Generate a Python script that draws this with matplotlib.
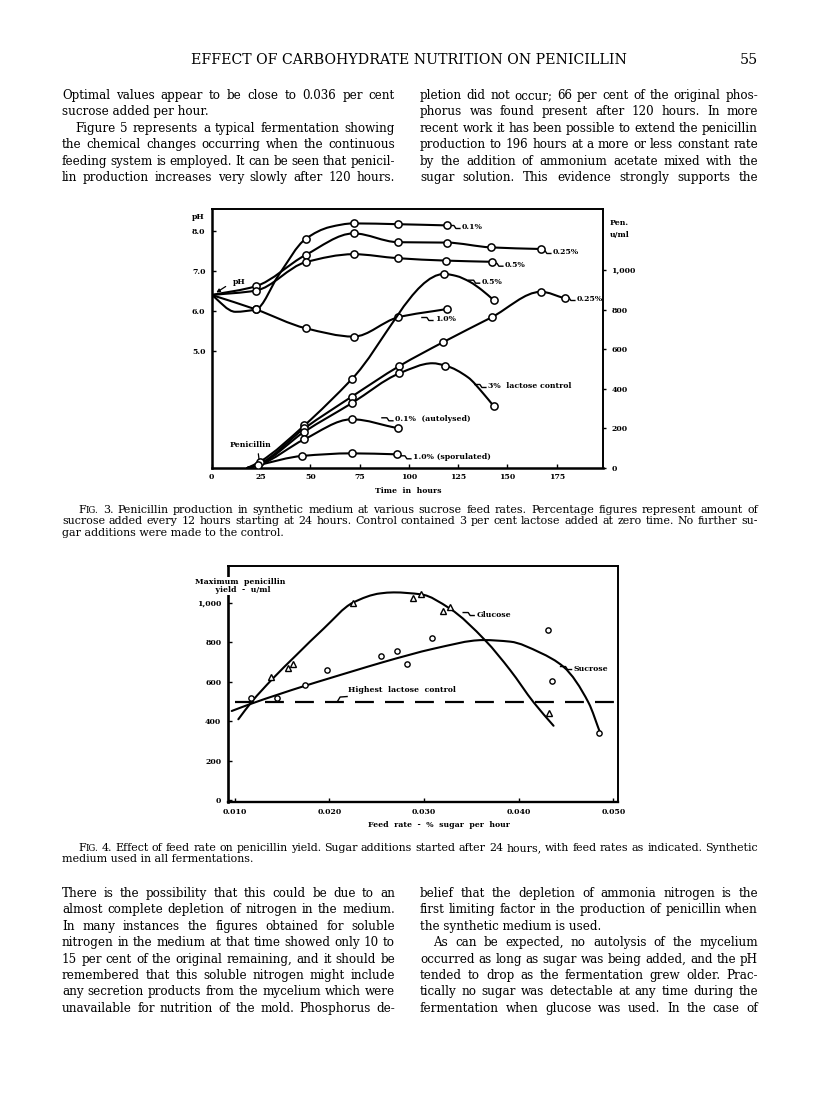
import numpy as np
import matplotlib
matplotlib.use("Agg")
import matplotlib.pyplot as plt
from matplotlib.path import Path
from matplotlib.patches import PathPatch
from matplotlib.lines import Line2D
import matplotlib.transforms as mtransforms

# ======================= DATA =======================
# ---- Fig. 3 : time course (hours) ----
hour_ticks = [0, 25, 50, 75, 100, 125, 150, 175]
ph_ticks = [5.0, 6.0, 7.0, 8.0]
ph_tick_labels = ["5.0", "6.0", "7.0", "8.0"]
pen_ticks = [0, 200, 400, 600, 800, 1000]
pen_tick_labels = ["0", "200", "400", "600", "800", "1,000"]

# pH curves: marker points
ph01_t = [22.4, 47.6, 72, 94.4, 119.4]
ph01_v = [6.04, 7.8, 8.19, 8.17, 8.14]
ph01_line_t = [0, 12, 22.4, 34, 47.6, 60, 72, 94.4, 119.4]
ph01_line_v = [6.4, 5.98, 6.04, 6.9, 7.8, 8.1, 8.19, 8.17, 8.14]

ph025_t = [22.4, 47.6, 72, 94.4, 119.4, 141.6, 167]
ph025_v = [6.62, 7.4, 7.94, 7.72, 7.71, 7.59, 7.55]
ph025_start = (0, 6.4)

ph05_t = [22.4, 47.6, 72, 94.4, 118.7, 142]
ph05_v = [6.51, 7.22, 7.42, 7.32, 7.26, 7.23]
ph05_start = (0, 6.4)

ph10_t = [22.4, 47.6, 72, 94.4, 119.4]
ph10_v = [6.04, 5.57, 5.36, 5.84, 6.05]
ph10_start = (0, 6.4)

# penicillin curves (u/ml): marker points and line points
pen05_t = [24.5, 47, 71, 118, 143]
pen05_v = [32, 215, 448, 980, 848]
pen05_line_t = [18, 24.5, 47, 71, 118, 124, 131, 137, 143]
pen05_line_v = [0, 32, 215, 448, 980, 970, 940, 899, 848]

pen025_t = [47, 71, 95.2, 117.3, 142, 167, 179]
pen025_v = [200, 360, 515, 635, 761, 890, 857]
pen025_line_t = [18, 24, 47, 71, 95.2, 117.3, 142, 167, 179]
pen025_line_v = [0, 20, 200, 360, 515, 635, 761, 890, 857]

lac_t = [23.5, 47, 71, 95.2, 118.6, 143]
lac_v = [15, 183, 327, 478, 517, 313]
lac_line_t = [18, 23.5, 47, 71, 95.2, 112, 118.6, 130, 137.7, 143]
lac_line_v = [0, 15, 183, 327, 478, 529, 517, 458, 377, 313]

pen01a_t = [47, 71, 94.7]
pen01a_v = [145, 246, 200]
pen01a_line_t = [18, 24, 47, 71, 94.7]
pen01a_line_v = [0, 15, 145, 246, 200]

pen10s_t = [46, 71, 94]
pen10s_v = [61, 74, 69]
pen10s_line_t = [18, 24, 46, 71, 94]
pen10s_line_v = [0, 15, 61, 74, 69]

# ---- Fig. 4 : feed rate (% sugar per hour) ----
rate_ticks = [0.010, 0.020, 0.030, 0.040, 0.050]
rate_tick_labels = ["0.010", "0.020", "0.030", "0.040", "0.050"]
yield_ticks = [0, 200, 400, 600, 800, 1000]
yield_tick_labels = ["0", "200", "400", "600", "800", "1,000"]

glu_x = [0.01382, 0.01561, 0.01620, 0.02248, 0.02889, 0.02967, 0.03206, 0.03270, 0.04316]
glu_y = [623, 669, 690, 1002, 1024, 1044, 961, 978, 443]
glu_line_x = [0.01039, 0.01181, 0.01400, 0.01650, 0.01940, 0.02250, 0.02540, 0.02680,
              0.02970, 0.03270, 0.03650, 0.03910, 0.04160, 0.04369]
glu_line_y = [410, 499, 615, 735, 870, 1002, 1049, 1054, 1044, 973, 809, 660, 495, 377]

suc_x = [0.01173, 0.01445, 0.01744, 0.01974, 0.02548, 0.02717, 0.02819, 0.03090, 0.04310, 0.04352, 0.04852]
suc_y = [516, 516, 584, 660, 731, 756, 689, 824, 863, 604, 339]
suc_line_x = [0.00969, 0.01181, 0.01744, 0.01974, 0.02255, 0.02548, 0.02854, 0.03100,
              0.03629, 0.03911, 0.04228, 0.04475, 0.04739, 0.04863]
suc_line_y = [452, 490, 580, 614, 655, 697, 738, 768, 812, 804, 748, 676, 494, 339]

lactose_level = 497
lactose_x = [0.01007, 0.05003]

# ---- text ----
header = "EFFECT OF CARBOHYDRATE NUTRITION ON PENICILLIN"
page_no = "55"

top_left = [
    ("Optimal values appear to be close to 0.036 per cent", True, False),
    ("sucrose added per hour.", False, False),
    ("Figure 5 represents a typical fermentation showing", True, True),
    ("the chemical changes occurring when the continuous", True, False),
    ("feeding system is employed. It can be seen that penicil-", True, False),
    ("lin production increases very slowly after 120 hours.", True, False),
]
top_right = [
    ("pletion did not occur; 66 per cent of the original phos-", True, False),
    ("phorus was found present after 120 hours. In more", True, False),
    ("recent work it has been possible to extend the penicillin", True, False),
    ("production to 196 hours at a more or less constant rate", True, False),
    ("by the addition of ammonium acetate mixed with the", True, False),
    ("sugar solution. This evidence strongly supports the", True, False),
]
bot_left = [
    ("There is the possibility that this could be due to an", True, False),
    ("almost complete depletion of nitrogen in the medium.", True, False),
    ("In many instances the figures obtained for soluble", True, False),
    ("nitrogen in the medium at that time showed only 10 to", True, False),
    ("15 per cent of the original remaining, and it should be", True, False),
    ("remembered that this soluble nitrogen might include", True, False),
    ("any secretion products from the mycelium which were", True, False),
    ("unavailable for nutrition of the mold. Phosphorus de-", True, False),
]
bot_right = [
    ("belief that the depletion of ammonia nitrogen is the", True, False),
    ("first limiting factor in the production of penicillin when", True, False),
    ("the synthetic medium is used.", False, False),
    ("As can be expected, no autolysis of the mycelium", True, True),
    ("occurred as long as sugar was being added, and the pH", True, False),
    ("tended to drop as the fermentation grew older. Prac-", True, False),
    ("tically no sugar was detectable at any time during the", True, False),
    ("fermentation when glucose was used. In the case of", True, False),
]
cap3 = [
    ("Fig. 3. Penicillin production in synthetic medium at various sucrose feed rates. Percentage figures represent amount of", True, True),
    ("sucrose added every 12 hours starting at 24 hours. Control contained 3 per cent lactose added at zero time. No further su-", True, False),
    ("gar additions were made to the control.", False, False),
]
cap4 = [
    ("Fig. 4. Effect of feed rate on penicillin yield. Sugar additions started after 24 hours, with feed rates as indicated. Synthetic", True, True),
    ("medium used in all fermentations.", False, False),
]

# ======================= FIGURE =======================
W, H, DPI = 816, 1098, 100
fig = plt.figure(figsize=(W / DPI, H / DPI), dpi=DPI)
fig.patch.set_facecolor("white")
R = fig.canvas.get_renderer()

BODY = dict(family="DejaVu Serif")
CH = dict(family="DejaVu Serif", weight="bold")
CFS = 5.6


def fx(x):
    return x / W


def fy(y):
    return 1 - y / H


def measure(s, size, **kw):
    t = fig.text(0, 0, s, fontsize=size, **kw)
    w = t.get_window_extent(renderer=R).width
    t.remove()
    return w


def word_width(w, size, **kw):
    if w == "Fig.":
        return measure("F", size, **kw) + measure("IG.", size * 0.78, **kw)
    return measure(w, size, **kw)


def put_word(x, yb, w, size, **kw):
    if w == "Fig.":
        fig.text(fx(x), fy(yb), "F", fontsize=size, va="baseline", ha="left", **kw)
        x2 = x + measure("F", size, **kw)
        fig.text(fx(x2), fy(yb), "IG.", fontsize=size * 0.78, va="baseline", ha="left", **kw)
    else:
        fig.text(fx(x), fy(yb), w, fontsize=size, va="baseline", ha="left", **kw)


def fit_size(lines, x0, x1, indent, base=10.0, **kw):
    ratios = []
    for s, j, ind in lines:
        if j:
            ratios.append((measure(s, base, **kw) + (indent if ind else 0)) / (x1 - x0))
    return base / max(ratios) * 1.01


def draw_block(lines, x0, x1, y0, dy, size, indent, **kw):
    for i, (s, j, ind) in enumerate(lines):
        yb = y0 + i * dy
        xs = x0 + (indent if ind else 0)
        words = s.split()
        if not j or len(words) == 1:
            fig.text(fx(xs), fy(yb), s, fontsize=size, va="baseline", ha="left", **kw)
            continue
        ws = [word_width(w, size, **kw) for w in words]
        gap = (x1 - xs - sum(ws)) / (len(words) - 1)
        x = xs
        for w, wd in zip(words, ws):
            put_word(x, yb, w, size, **kw)
            x += wd + gap


# header
hs = 10 * 431 / measure(header, 10, **BODY)
fig.text(fx(408.5), fy(64), header, fontsize=hs, ha="center", va="baseline", **BODY)
fig.text(fx(758), fy(64), page_no, fontsize=hs, ha="right", va="baseline", **BODY)

# body columns
LX0, LX1, RX0, RX1 = 62, 395, 420, 758
bs = min(fit_size(top_left + bot_left, LX0, LX1, 13, **BODY),
         fit_size(top_right + bot_right, RX0, RX1, 13, **BODY))
draw_block(top_left, LX0, LX1, 99, 16.4, bs, 13, **BODY)
draw_block(top_right, RX0, RX1, 99, 16.4, bs, 13, **BODY)
draw_block(bot_left, LX0, LX1, 897, 16.4, bs, 13, **BODY)
draw_block(bot_right, RX0, RX1, 897, 16.4, bs, 13, **BODY)

# captions
cs = fit_size(cap3 + cap4, 62, 758, 16, **BODY)
draw_block(cap3, 62, 758, 513, 11.3, cs, 16, **BODY)
draw_block(cap4, 62, 758, 851, 11.3, cs, 16, **BODY)


def rect(l, t, r, b):
    return [l / W, 1 - b / H, (r - l) / W, (b - t) / H]


def smooth(ax, xs, ys, lw=1.5, **kw):
    """Monotone cubic curve drawn as a Bezier path through the read points."""
    x = np.asarray(xs, float)
    y = np.asarray(ys, float)
    n = len(x)
    h = np.diff(x)
    d = np.diff(y) / h
    m = np.zeros(n)
    m[0], m[-1] = d[0], d[-1]
    for i in range(1, n - 1):
        if d[i - 1] * d[i] <= 0:
            m[i] = 0
        else:
            w1 = 2 * h[i] + h[i - 1]
            w2 = h[i] + 2 * h[i - 1]
            m[i] = (w1 + w2) / (w1 / d[i - 1] + w2 / d[i])
    verts = [(x[0], y[0])]
    codes = [Path.MOVETO]
    for i in range(n - 1):
        verts += [(x[i] + h[i] / 3, y[i] + m[i] * h[i] / 3),
                  (x[i + 1] - h[i] / 3, y[i + 1] - m[i + 1] * h[i] / 3),
                  (x[i + 1], y[i + 1])]
        codes += [Path.CURVE4] * 3
    ax.add_patch(PathPatch(Path(verts, codes), fill=False, lw=lw, ec="black",
                           capstyle="round", joinstyle="round", **kw))


def leader(ax, x, y):
    """small squiggle connector in front of a curve label (pixel offsets)."""
    tr = fig.dpi_scale_trans + mtransforms.ScaledTranslation(x, y, ax.transData)
    pts = np.array([(-13, 1.5), (-8, 1.5), (-6, -1.5), (-2, -1.5)]) / DPI
    ax.add_line(Line2D(pts[:, 0], pts[:, 1], transform=tr, color="black", lw=1.0,
                       clip_on=False))


def ax_label(ax, x, y, s, ha="left", **kw):
    ax.text(x, y, s, fontsize=CFS, ha=ha, va="center", clip_on=False, **CH, **kw)


# ======================= FIG. 3 =======================
ax3 = fig.add_axes(rect(211.7, 209, 603, 468))
ax3.set_xlim(0, 198.5)
ax3.set_ylim(2.075, 8.55)
axp = ax3.twinx()
axp.set_ylim(0, 1308)
axp.set_xlim(0, 198.5)
for sp in ax3.spines.values():
    sp.set_linewidth(1.4)
ax3.spines["left"].set_linewidth(1.8)
ax3.spines["bottom"].set_linewidth(1.8)
for sp in axp.spines.values():
    sp.set_visible(False)

ax3.set_xticks(hour_ticks)
ax3.set_xticklabels([str(v) for v in hour_ticks])
ax3.set_yticks(ph_ticks)
ax3.set_yticklabels(ph_tick_labels)
axp.set_yticks(pen_ticks)
axp.set_yticklabels(pen_tick_labels)
ax3.tick_params(axis="x", direction="in", length=3, width=1, pad=3.5, labelsize=CFS)
ax3.tick_params(axis="y", direction="in", length=3, width=1, pad=4.5, labelsize=CFS)
axp.tick_params(axis="y", direction="out", length=2.5, width=1, pad=3.5, labelsize=CFS)
for lbl in ax3.get_xticklabels() + ax3.get_yticklabels() + axp.get_yticklabels():
    lbl.set_fontweight("bold")
    lbl.set_family("DejaVu Serif")

MK = dict(marker="o", ms=5.2, mfc="white", mec="black", mew=1.1, ls="none", zorder=5)

# pH curves
smooth(ax3, ph01_line_t, ph01_line_v)
ax3.plot(ph01_t, ph01_v, **MK)
smooth(ax3, [ph025_start[0]] + ph025_t, [ph025_start[1]] + ph025_v)
ax3.plot(ph025_t, ph025_v, **MK)
smooth(ax3, [ph05_start[0]] + ph05_t, [ph05_start[1]] + ph05_v)
ax3.plot(ph05_t, ph05_v, **MK)
smooth(ax3, [ph10_start[0]] + ph10_t, [ph10_start[1]] + ph10_v)
ax3.plot(ph10_t, ph10_v, **MK)

# penicillin curves
for lt, lv, mt, mv in [(pen05_line_t, pen05_line_v, pen05_t, pen05_v),
                       (pen025_line_t, pen025_line_v, pen025_t, pen025_v),
                       (lac_line_t, lac_line_v, lac_t, lac_v),
                       (pen01a_line_t, pen01a_line_v, pen01a_t, pen01a_v),
                       (pen10s_line_t, pen10s_line_v, pen10s_t, pen10s_v)]:
    smooth(axp, lt, lv)
    axp.plot(mt, mv, **MK)


# labels (pixel -> data helpers)
def t_of(px):
    return (px - 211.7) / 1.972


def ph_of(py):
    return 8 - (py - 231) / 40


def pen_of(py):
    return (468 - py) / 0.198


for px, py, s in [(462, 227, "0.1%"), (553, 252, "0.25%"), (505, 264.7, "0.5%"),
                  (435, 319, "1.0%")]:
    ax_label(ax3, t_of(px), ph_of(py), s)
    leader(ax3, t_of(px), ph_of(py))
for px, py, s in [(481.7, 281.7, "0.5%"), (577, 299, "0.25%"), (488, 386, "3%  lactose control"),
                  (395, 419.3, "0.1%  (autolysed)"), (413, 457.3, "1.0% (sporulated)")]:
    ax_label(axp, t_of(px), pen_of(py), s)
    leader(axp, t_of(px), pen_of(py))

fig.text(fx(250), fy(445), "Penicillin", fontsize=CFS, ha="center", va="center", **CH)
axp.annotate("", xy=(t_of(259.5), pen_of(463)), xytext=(t_of(258), pen_of(451)),
             arrowprops=dict(arrowstyle="-", lw=0.9, color="black"))
fig.text(fx(233), fy(282), "pH", fontsize=CFS, ha="left", va="center", **CH)
ax3.annotate("", xy=(t_of(214), ph_of(294)), xytext=(t_of(228), ph_of(285)),
             arrowprops=dict(arrowstyle="-|>", lw=0.9, color="black", mutation_scale=5))
fig.text(fx(198), fy(217), "pH", fontsize=CFS, ha="center", va="center", **CH)
fig.text(fx(610), fy(223), "Pen.", fontsize=CFS, ha="left", va="center", **CH)
fig.text(fx(610), fy(235), "u/ml", fontsize=CFS, ha="left", va="center", **CH)
fig.text(fx(408), fy(491), "Time  in  hours", fontsize=CFS, ha="center", va="center", **CH)

# ======================= FIG. 4 =======================
ax4 = fig.add_axes(rect(228.3, 566, 618, 802))
ax4.set_xlim(0.00933, 0.0505)
ax4.set_ylim(-10, 1188)
ax4.spines["left"].set_linewidth(1.9)
ax4.spines["bottom"].set_linewidth(1.7)
ax4.spines["top"].set_linewidth(1.4)
ax4.spines["right"].set_linewidth(1.4)
ax4.set_xticks(rate_ticks)
ax4.set_xticklabels(rate_tick_labels)
ax4.set_yticks(yield_ticks)
ax4.set_yticklabels(yield_tick_labels)
ax4.tick_params(axis="x", direction="in", length=3, width=1, pad=4, labelsize=CFS)
ax4.tick_params(axis="y", direction="in", length=3, width=1, pad=5, labelsize=CFS)
for lbl in ax4.get_xticklabels() + ax4.get_yticklabels():
    lbl.set_fontweight("bold")
    lbl.set_family("DejaVu Serif")

smooth(ax4, glu_line_x, glu_line_y, lw=1.5)
smooth(ax4, suc_line_x, suc_line_y, lw=1.5)
ax4.plot(lactose_x, [lactose_level, lactose_level], color="black", lw=1.6,
         ls=(0, (8.5, 5.0)))
ax4.plot(glu_x, glu_y, marker="^", ms=4.3, mfc="white", mec="black", mew=1.0, ls="none", zorder=5)
ax4.plot(suc_x, suc_y, marker="o", ms=3.8, mfc="white", mec="black", mew=1.0, ls="none", zorder=5)


def r_of(px):
    return 0.030 + (px - 423.8) / 9460


def y_of(py):
    return (800 - py) / 0.197


ax_label(ax4, r_of(476), y_of(615), "Glucose")
leader(ax4, r_of(476), y_of(614))
ax_label(ax4, r_of(573.3), y_of(669), "Sucrose")
leader(ax4, r_of(573.3), y_of(668))
ax_label(ax4, r_of(348.3), y_of(690), "Highest  lactose  control")
ax4.plot([r_of(330), r_of(337), r_of(340), r_of(347)], [y_of(702), y_of(702), y_of(697), y_of(696.5)],
         color="black", lw=1.0)

fig.text(fx(240.5), fy(586), "Maximum  penicillin\n  yield  -  u/ml", fontsize=CFS, ha="center",
         va="center", linespacing=0.95, zorder=10,
         bbox=dict(boxstyle="square,pad=0.15", fc="white", ec="none"), **CH)
fig.text(fx(439), fy(825), "Feed  rate  -  %  sugar  per  hour", fontsize=CFS, ha="center",
         va="center", **CH)

fig.savefig("out.png", dpi=DPI, facecolor="white")
